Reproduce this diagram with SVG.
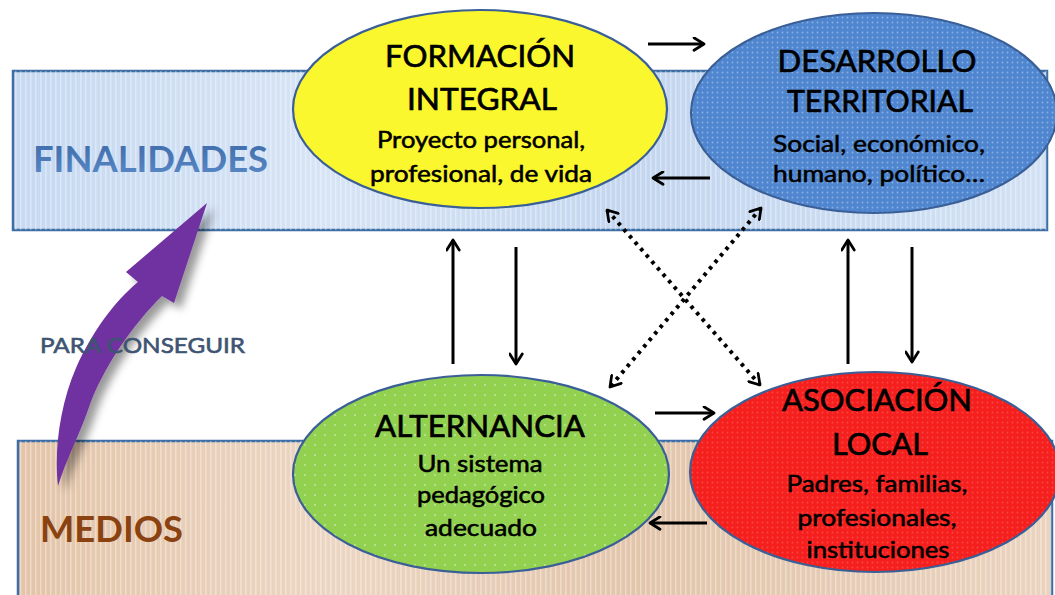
<svg xmlns="http://www.w3.org/2000/svg" width="1055" height="595" viewBox="0 0 1055 595">
<style>
.t{font-family:Lato,"Open Sans","Liberation Sans",sans-serif;fill:#000;stroke:#000;text-anchor:middle}
.h{font-size:31px;stroke-width:0.7}
.s{font-size:23px;stroke-width:0.55}
.con{fill:none;stroke:#000;stroke-width:3}
.dot{fill:none;stroke:#000;stroke-width:4;stroke-dasharray:3.5 5}
.ell{stroke:#3a5f97;stroke-width:2.2}
</style>
<defs>
<linearGradient id="gBlue" x1="0" y1="0" x2="1" y2="0">
<stop offset="0" stop-color="#c6d9f1"/><stop offset="0.3" stop-color="#d7e4f5"/><stop offset="0.6" stop-color="#c3d6ef"/><stop offset="1" stop-color="#d2e1f4"/>
</linearGradient>
<linearGradient id="gTan" x1="0" y1="0" x2="1" y2="0">
<stop offset="0" stop-color="#e3c4a8"/><stop offset="0.3" stop-color="#ecd6c3"/><stop offset="0.6" stop-color="#e2c5ab"/><stop offset="1" stop-color="#ead3bf"/>
</linearGradient>
<linearGradient id="gFin" x1="0" y1="0" x2="0" y2="1">
<stop offset="0" stop-color="#3b68a6"/><stop offset="1" stop-color="#5b8bc8"/>
</linearGradient>
<pattern id="stripes" width="5" height="10" patternUnits="userSpaceOnUse">
<rect x="0" y="0" width="1.5" height="10" fill="#ffffff" opacity="0.35"/>
</pattern>
<pattern id="dots" width="5" height="5" patternUnits="userSpaceOnUse">
<circle cx="2.5" cy="2.5" r="0.9" fill="#ffffff" opacity="0.35"/>
</pattern>
<pattern id="dotsSparse" width="10" height="10" patternUnits="userSpaceOnUse">
<circle cx="5" cy="5" r="1" fill="#ffffff" opacity="0.45"/>
</pattern>
<filter id="shadow" x="-30%" y="-30%" width="160%" height="160%">
<feGaussianBlur in="SourceAlpha" stdDeviation="4"/>
<feOffset dx="7" dy="6" result="b"/>
<feFlood flood-color="#000" flood-opacity="0.4"/>
<feComposite in2="b" operator="in"/>
<feMerge><feMergeNode/><feMergeNode in="SourceGraphic"/></feMerge>
</filter>
<marker id="ah" viewBox="0 0 12 12" refX="10" refY="6" markerWidth="15" markerHeight="15" markerUnits="userSpaceOnUse" orient="auto-start-reverse">
<path d="M2,1 L10,6 L2,11" fill="none" stroke="#000" stroke-width="2.2" stroke-linecap="round" stroke-linejoin="round"/>
</marker>
</defs>

<g id="finalidades-band">
<rect x="13" y="71" width="1034" height="159" fill="url(#gBlue)" stroke="#3d6ea5" stroke-width="2.5"/>
<rect x="13" y="71" width="1034" height="159" fill="url(#stripes)"/>
<text x="33" y="172" font-family="Lato,'Open Sans','Liberation Sans',sans-serif" font-weight="bold" font-size="36" fill="url(#gFin)" textLength="235" lengthAdjust="spacingAndGlyphs">FINALIDADES</text>
</g>

<g id="medios-band">
<rect x="18" y="441" width="1034" height="160" fill="url(#gTan)" stroke="#3d6ea5" stroke-width="2.5"/>
<rect x="18" y="441" width="1034" height="160" fill="url(#stripes)"/>
<text x="40" y="542" font-family="Lato,'Open Sans','Liberation Sans',sans-serif" font-weight="bold" font-size="37" fill="#8a4210" textLength="143" lengthAdjust="spacingAndGlyphs">MEDIOS</text>
</g>

<g id="para-conseguir">
<path d="M207,203 L174,303 L162,296 C135,322 102,368 88,410 C78,438 66,460 58,486 C54,450 60,405 76,368 C92,332 114,302 138,282 L126,272 Z" fill="#7030a0" filter="url(#shadow)"/>
<text x="40" y="353" font-family="Lato,'Open Sans','Liberation Sans',sans-serif" font-size="21" fill="#3e5472" stroke="#3e5472" stroke-width="0.6" textLength="205" lengthAdjust="spacingAndGlyphs">PARA CONSEGUIR</text>
</g>

<g id="connectors">
<line class="con" x1="648" y1="44" x2="704" y2="44" marker-end="url(#ah)"/>
<line class="con" x1="710" y1="178" x2="653" y2="178" marker-end="url(#ah)"/>
<line class="con" x1="655" y1="413" x2="714" y2="413" marker-end="url(#ah)"/>
<line class="con" x1="707" y1="523" x2="650" y2="523" marker-end="url(#ah)"/>
<line class="con" x1="453" y1="364" x2="453" y2="240" marker-end="url(#ah)"/>
<line class="con" x1="516" y1="247" x2="516" y2="364" marker-end="url(#ah)"/>
<line class="con" x1="848" y1="364" x2="848" y2="240" marker-end="url(#ah)"/>
<line class="con" x1="912" y1="247" x2="912" y2="362" marker-end="url(#ah)"/>
<line class="dot" x1="607" y1="210" x2="760" y2="385" marker-start="url(#ah)" marker-end="url(#ah)"/>
<line class="dot" x1="761" y1="208" x2="610" y2="387" marker-start="url(#ah)" marker-end="url(#ah)"/>
</g>

<g id="formacion-integral">
<ellipse class="ell" cx="480" cy="109" rx="187" ry="99" fill="#fbf72e"/>
<text class="t h" x="480" y="67" textLength="190" lengthAdjust="spacingAndGlyphs">FORMACIÓN</text>
<text class="t h" x="482" y="110" textLength="150" lengthAdjust="spacingAndGlyphs">INTEGRAL</text>
<text class="t s" x="481" y="148" textLength="208" lengthAdjust="spacingAndGlyphs">Proyecto personal,</text>
<text class="t s" x="481" y="182" textLength="222" lengthAdjust="spacingAndGlyphs">profesional, de vida</text>
</g>

<g id="desarrollo-territorial">
<ellipse class="ell" cx="874" cy="113" rx="183" ry="100" fill="#4f86cf"/>
<ellipse cx="874" cy="113" rx="182" ry="99" fill="url(#dots)"/>
<text class="t h" x="877" y="72" textLength="199" lengthAdjust="spacingAndGlyphs">DESARROLLO</text>
<text class="t h" x="880" y="112" textLength="186" lengthAdjust="spacingAndGlyphs">TERRITORIAL</text>
<text class="t s" x="879" y="152" textLength="212" lengthAdjust="spacingAndGlyphs">Social, económico,</text>
<text class="t s" x="879" y="182" textLength="212" lengthAdjust="spacingAndGlyphs">humano, político…</text>
</g>

<g id="alternancia">
<ellipse class="ell" cx="481" cy="474" rx="188" ry="99" fill="#92d050"/>
<ellipse cx="481" cy="474" rx="187" ry="98" fill="url(#dotsSparse)"/>
<text class="t h" x="480" y="437" textLength="210" lengthAdjust="spacingAndGlyphs">ALTERNANCIA</text>
<text class="t s" x="480" y="472" textLength="125" lengthAdjust="spacingAndGlyphs">Un sistema</text>
<text class="t s" x="481" y="503" textLength="128" lengthAdjust="spacingAndGlyphs">pedagógico</text>
<text class="t s" x="481" y="536" textLength="112" lengthAdjust="spacingAndGlyphs">adecuado</text>
</g>

<g id="asociacion-local">
<ellipse class="ell" cx="875" cy="472" rx="185" ry="100" fill="#f5201e"/>
<ellipse cx="875" cy="472" rx="184" ry="99" fill="url(#dots)" opacity="0.5"/>
<text class="t h" x="877" y="411" textLength="190" lengthAdjust="spacingAndGlyphs">ASOCIACIÓN</text>
<text class="t h" x="880" y="455" textLength="96" lengthAdjust="spacingAndGlyphs">LOCAL</text>
<text class="t s" x="877" y="492" textLength="181" lengthAdjust="spacingAndGlyphs">Padres, familias,</text>
<text class="t s" x="877" y="526" textLength="159" lengthAdjust="spacingAndGlyphs">profesionales,</text>
<text class="t s" x="878" y="558" textLength="143" lengthAdjust="spacingAndGlyphs">instituciones</text>
</g>
</svg>
